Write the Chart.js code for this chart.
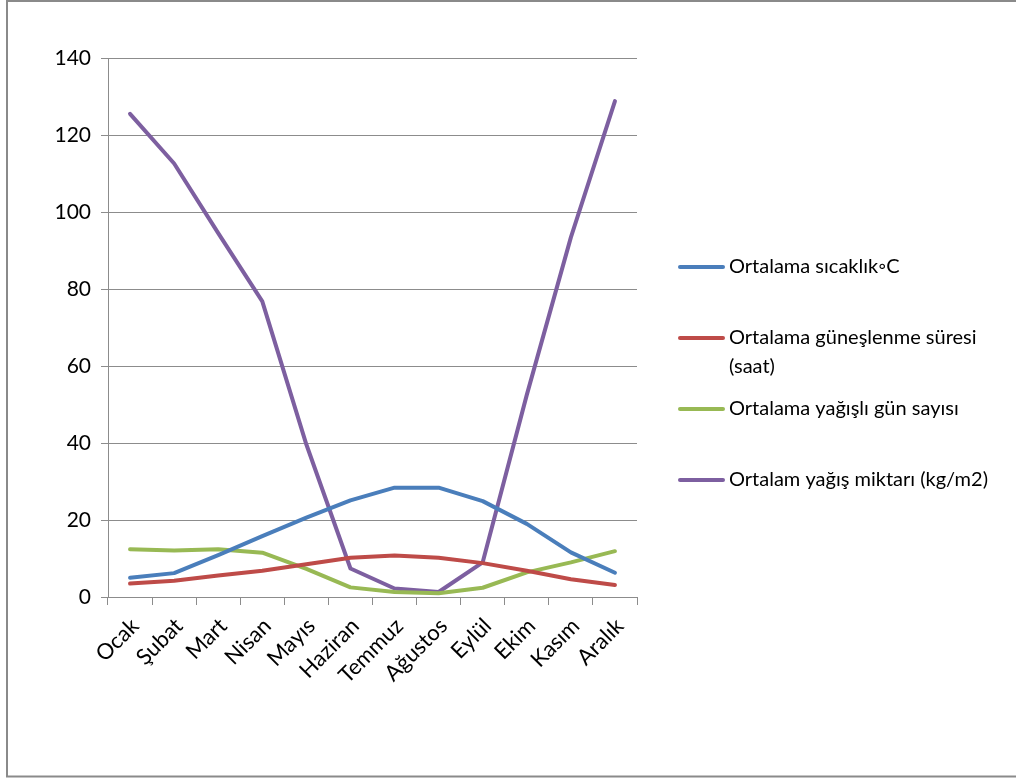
<!DOCTYPE html>
<html>
<head>
<meta charset="utf-8">
<script src="https://cdn.jsdelivr.net/npm/chart.js@4/dist/chart.umd.min.js"></script>
<style>
  html, body { margin: 0; padding: 0; background: #fff; }
  #wrap { position: relative; width: 1016px; height: 780px; }
</style>
</head>
<body>
<div id="wrap"><canvas id="c" width="1016" height="780"></canvas></div>
<script>
// Monthly climate averages
const months = ['Ocak', 'Şubat', 'Mart', 'Nisan', 'Mayıs', 'Haziran', 'Temmuz', 'Ağustos', 'Eylül', 'Ekim', 'Kasım', 'Aralık'];
const temperature = [5.0, 6.2, 10.9, 15.8, 20.6, 25.1, 28.4, 28.4, 24.9, 19.0, 11.6, 6.3];
const sunshineHours = [3.5, 4.2, 5.6, 6.8, 8.5, 10.2, 10.8, 10.2, 8.8, 6.8, 4.6, 3.1];
const rainyDays = [12.4, 12.1, 12.4, 11.5, 7.3, 2.5, 1.3, 1.0, 2.4, 6.4, 9.0, 11.9];
const precipitation = [125.5, 112.6, 94.5, 76.8, 39.6, 7.4, 2.2, 1.3, 9.0, 52.5, 93.4, 128.8];

const seriesNames = ['Ortalama sıcaklık◦C', 'Ortalama güneşlenme süresi (saat)', 'Ortalama yağışlı gün sayısı', 'Ortalam yağış miktarı (kg/m2)'];
const seriesColors = ['#4A7EBB', '#BE4B48', '#98B954', '#7D5FA0'];
const yMin = 0, yMax = 140, yStep = 20;

const FONT = 'Lato, "Open Sans", sans-serif';
const GRID = '#8c8c8c';

// Outer frame of the chart
const framePlugin = {
  id: 'frame',
  beforeDraw(chart) {
    const ctx = chart.ctx;
    ctx.save();
    ctx.fillStyle = '#fff';
    ctx.fillRect(0, 0, chart.width, chart.height);
    ctx.strokeStyle = '#8a8a8a';
    ctx.lineWidth = 2;
    ctx.strokeRect(7, 1, chart.width + 10, 775.5);
    ctx.restore();
  }
};

// Legend on the right, with wrapping of long names
const sideLegend = {
  id: 'sideLegend',
  afterDraw(chart) {
    const ctx = chart.ctx;
    const x0 = 680, x1 = 723, tx = 729, maxW = 280;
    const firstY = 267, slot = 71, lineH = 29;
    ctx.save();
    ctx.font = '20px ' + FONT;
    ctx.textBaseline = 'middle';
    ctx.fillStyle = '#000';
    chart.data.datasets.forEach((ds, i) => {
      const y = firstY + i * slot;
      ctx.strokeStyle = ds.borderColor;
      ctx.lineWidth = 4;
      ctx.lineCap = 'round';
      ctx.beginPath();
      ctx.moveTo(x0, y);
      ctx.lineTo(x1, y);
      ctx.stroke();
      // wrap words
      const words = ds.label.split(' ');
      const lines = [];
      let cur = '';
      words.forEach(w => {
        const t = cur ? cur + ' ' + w : w;
        if (ctx.measureText(t).width > maxW && cur) { lines.push(cur); cur = w; }
        else cur = t;
      });
      if (cur) lines.push(cur);
      lines.forEach((l, k) => ctx.fillText(l, tx, y + k * lineH));
    });
    ctx.restore();
  }
};

const datasets = [temperature, sunshineHours, rainyDays, precipitation].map((d, i) => ({
  label: seriesNames[i],
  data: d,
  borderColor: seriesColors[i],
  backgroundColor: seriesColors[i],
  borderWidth: 4,
  borderCapStyle: 'round',
  borderJoinStyle: 'round',
  pointRadius: 0,
  pointHoverRadius: 0,
  tension: 0,
  fill: false
}));

new Chart(document.getElementById('c'), {
  type: 'line',
  data: { labels: months, datasets: datasets },
  plugins: [framePlugin, sideLegend],
  options: {
    responsive: false,
    animation: false,
    events: [],
    layout: { padding: { left: 0, top: 58, right: 1016 - 637, bottom: 0 } },
    plugins: { legend: { display: false }, tooltip: { enabled: false } },
    scales: {
      x: {
        type: 'category',
        offset: true,
        afterFit(s) { s.height = 780 - 597; },
        border: { display: true, color: GRID, width: 1 },
        grid: { offset: true, drawOnChartArea: false, drawTicks: true, tickLength: 8, color: GRID },
        ticks: {
          minRotation: 45, maxRotation: 45, padding: 8, labelOffset: 5,
          color: '#000', font: { family: FONT, size: 22 }
        }
      },
      y: {
        min: yMin, max: yMax,
        afterFit(s) { s.width = 108; },
        border: { display: true, color: GRID, width: 1 },
        grid: { color: GRID, lineWidth: 1, tickLength: 7 },
        ticks: {
          stepSize: yStep, padding: 10,
          color: '#000', font: { family: FONT, size: 21 }
        }
      }
    }
  }
});
</script>
</body>
</html>
